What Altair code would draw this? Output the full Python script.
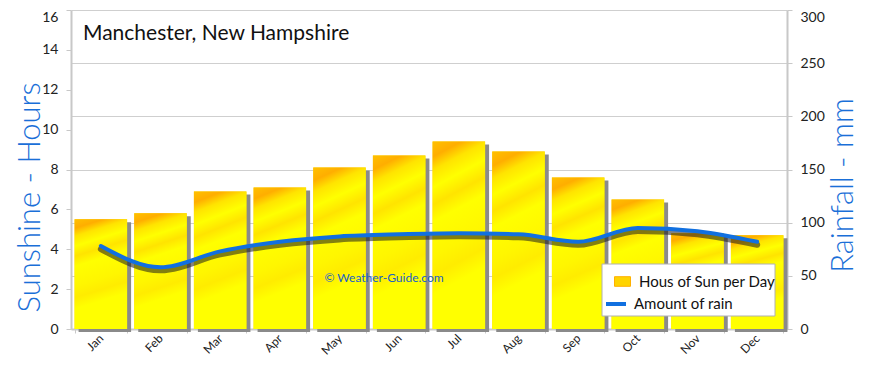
import altair as alt
import pandas as pd

months = ["Jan", "Feb", "Mar", "Apr", "May", "Jun", "Jul", "Aug", "Sep", "Oct", "Nov", "Dec"]
sun_hours = [5.5, 5.8, 6.9, 7.1, 8.1, 8.7, 9.4, 8.9, 7.6, 6.5, 4.8, 4.7]
rain_mm = [78, 58, 73, 82, 87, 89, 90, 89, 82, 95, 92, 82]
sun_label = "Hous of Sun per Day"
rain_label = "Amount of rain"
chart_title = "Manchester, New Hampshire"
watermark = "© Weather-Guide.com"

df = pd.DataFrame({
    "month": months,
    "sun": sun_hours,
    "rain": rain_mm,
    "s": [sun_label] * len(months),
    "r": [rain_label] * len(months),
})

FONT = "Lato"
BLUE = "#1a6fd8"

x_enc = alt.X(
    "month:N", sort=months, title=None,
    scale=alt.Scale(paddingInner=0.12, paddingOuter=0.06),
    axis=alt.Axis(labelAngle=315, labelAlign="right", labelBaseline="middle",
                  labelFontSize=12, labelPadding=3, labelColor="#222",
                  tickBand="extent", tickColor="#c8c8c8", tickSize=4,
                  domainColor="#c8c8c8", domainWidth=2, grid=False),
)

y_sun = alt.Y(
    "sun:Q", title="Sunshine - Hours",
    scale=alt.Scale(domain=[0, 16], nice=False),
    axis=alt.Axis(values=list(range(0, 17, 2)), grid=False, orient="left",
                  labelFontSize=14, labelColor="#222", labelPadding=8,
                  labelBaseline={"condition": {"test": "datum.value >= 16", "value": "top"},
                                 "value": "middle"},
                  tickColor="#c8c8c8", tickSize=5, domainColor="#c8c8c8", domainWidth=2,
                  titleFontSize=31, titleColor=BLUE, titleFontWeight=300,
                  titleAngle=270, titleX=-41, titleY=187, titleAlign="center",
                  titleBaseline="middle"),
)

base = alt.Chart(df)

shadow = base.mark_bar(color="#8a8a8a", xOffset=4, yOffset=3).encode(x=x_enc, y=y_sun)

legend_bars = base.mark_bar().encode(
    x=x_enc, y=y_sun,
    color=alt.Color("s:N", scale=alt.Scale(domain=[sun_label], range=["#ffd400"]),
                    legend=alt.Legend(title=None, orient="none", legendX=543, legendY=263,
                                      symbolType="M-1,-0.6H1V0.6H-1Z", symbolSize=256,
                                      symbolStrokeColor="#ffb000", symbolStrokeWidth=1,
                                      labelFontSize=15, labelColor="#111", labelFont=FONT,
                                      padding=0, labelOffset=8)),
)

grad = alt.Gradient(
    gradient="linear", x1=0, y1=0, x2=0.15, y2=1,
    stops=[
        alt.GradientStop(offset=0.0, color="#ffc000"),
        alt.GradientStop(offset=0.08, color="#ffae00"),
        alt.GradientStop(offset=0.15, color="#ffe400"),
        alt.GradientStop(offset=0.24, color="#ffff00"),
        alt.GradientStop(offset=0.33, color="#ffe400"),
        alt.GradientStop(offset=0.42, color="#ffff00"),
        alt.GradientStop(offset=0.60, color="#fff600"),
        alt.GradientStop(offset=0.70, color="#ffec00"),
        alt.GradientStop(offset=0.80, color="#ffff00"),
        alt.GradientStop(offset=1.0, color="#ffff00"),
    ],
)
bars = base.mark_bar(fill=grad).encode(x=x_enc, y=y_sun)

title_df = pd.DataFrame({"t": [chart_title]})
title_txt = alt.Chart(title_df).mark_text(
    align="left", baseline="alphabetic", fontSize=21, font=FONT, color="#111"
).encode(text="t:N", x=alt.value(12), y=alt.value(30))

wm_df = pd.DataFrame({"t": [watermark]})
wm_txt = alt.Chart(wm_df).mark_text(
    align="center", baseline="middle", fontSize=12, font=FONT, color="#1a5fc8"
).encode(text="t:N", x=alt.value(313), y=alt.value(268))

legend_box = alt.Chart(title_df).mark_rect(fill="white", stroke="#b0b0b0", strokeWidth=1).encode(
    x=alt.value(531), x2=alt.value(704), y=alt.value(254), y2=alt.value(306)
)

left_group = alt.layer(shadow, legend_bars, bars, title_txt, wm_txt, legend_box)

y_rain = alt.Y(
    "rain:Q", title="Rainfall - mm",
    scale=alt.Scale(domain=[0, 300], nice=False),
    axis=alt.Axis(values=list(range(0, 301, 50)), grid=True, gridColor="#cfcfcf",
                  orient="right", labelFontSize=14, labelColor="#222", labelPadding=8,
                  labelBaseline={"condition": {"test": "datum.value >= 300", "value": "top"},
                                 "value": "middle"},
                  tickColor="#c8c8c8", tickSize=5, domainColor="#c8c8c8", domainWidth=2,
                  titleFontSize=31, titleColor=BLUE, titleFontWeight=300,
                  titleAngle=270, titleX=56, titleY=175, titleAlign="center",
                  titleBaseline="middle"),
)

line_shadow = base.mark_line(interpolate="monotone", color="#1c1c1c", strokeWidth=6,
                             opacity=0.55, yOffset=3, strokeCap="round").encode(
    x=x_enc, y=y_rain)
line = base.mark_line(interpolate="monotone", strokeWidth=4, strokeCap="round").encode(
    x=x_enc, y=y_rain,
    color=alt.Color("r:N", scale=alt.Scale(domain=[rain_label], range=["#1170e0"]),
                    legend=alt.Legend(title=None, orient="none", legendX=533, legendY=282,
                                      symbolType="stroke", symbolSize=400, symbolStrokeWidth=4,
                                      labelFontSize=15, labelColor="#111", labelFont=FONT,
                                      padding=0, labelOffset=6)),
)

right_group = alt.layer(line_shadow, line)

chart = alt.layer(left_group, right_group).resolve_scale(
    y="independent", color="independent"
).properties(
    width=716, height=319,
    autosize=alt.AutoSizeParams(type="none"),
    padding={"left": 63, "top": 2, "right": 75, "bottom": 31},
    background="white",
).configure_view(strokeWidth=0).configure_axis(
    labelFont=FONT, titleFont=FONT
)

chart.save("out.html", embed_options={"renderer": "svg", "actions": False})
